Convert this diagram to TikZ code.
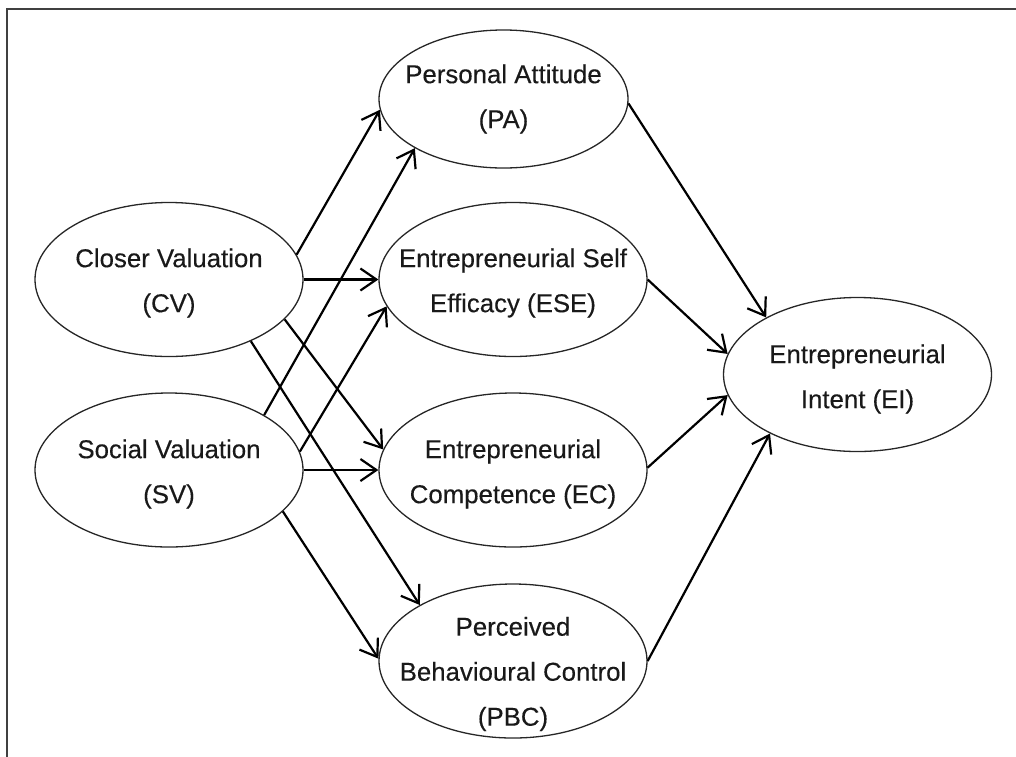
\documentclass[tikz,border=0pt]{standalone}
\usepackage{fontspec}
\setmainfont{Liberation Sans}[FakeBold=0.35]
\usetikzlibrary{shapes.geometric,arrows.meta}
\tikzset{
  ell/.style={draw=black!85, line width=1.3pt, shape=ellipse, inner sep=0pt, minimum width=268pt, minimum height=154pt},
  lbl/.style={align=center, font=\fontsize{25.8pt}{45pt}\selectfont, inner sep=0pt, text=black!90},
  conn/.style={draw=black, line width=2.2pt, -{Straight Barb[length=16pt,width=22pt,line width=2.2pt]}},
  frame/.style={draw=black!75, line width=2pt}
}
\begin{document}
\begin{tikzpicture}[x=1pt,y=-1pt]
\useasboundingbox (0,0) rectangle (1016,756);
\draw[frame] (7,760) -- (7,9) -- (1020,9);
% ellipses
\node[ell] (cv) at (169,279.5) {};
\node[ell] (sv) at (169,470) {};
\node[ell, minimum width=249pt, minimum height=138pt] (pa) at (503.5,99) {};
\node[ell] (ese) at (513,279.5) {};
\node[ell] (ec) at (513,470) {};
\node[ell] (pbc) at (513,661) {};
\node[ell] (ei) at (857.5,374.5) {};
% labels
\node[lbl] (cvt) at (169,283) {Closer Valuation\\(CV)};
\node[lbl] (svt) at (169,474) {Social Valuation\\(SV)};
\node[lbl] (pat) at (503.5,99) {Personal Attitude\\(PA)};
\node[lbl] (eset) at (513,283) {Entrepreneurial Self\\Efficacy (ESE)};
\node[lbl] (ect) at (513,474) {Entrepreneurial\\Competence (EC)};
\node[lbl] (pbct) at (513,674) {Perceived\\Behavioural Control\\(PBC)};
\node[lbl] (eit) at (857.5,379) {Entrepreneurial\\Intent (EI)};
% connectors
\draw[conn] (cv.11.5) -- (pa.185);
\draw[conn] (sv.30.7) -- (pa.209.5);
\draw[conn] (cv.0) -- (ese.180);
\draw[conn] (sv.8) -- (ese.192);
\draw[conn] (cv.341) -- (ec.171);
\draw[conn] (cv.323.4) -- (pbc.149);
\draw[conn] (sv.0) -- (ec.180);
\draw[conn] (sv.340.8) -- (pbc.179);
\draw[conn] (pa.-2) -- (ei.148.6);
\draw[conn] (ese.0) -- (ei.171);
\draw[conn] (ec.1) -- (ei.189);
\draw[conn] (pbc.0) -- (ei.214.8);
\end{tikzpicture}
\end{document}
